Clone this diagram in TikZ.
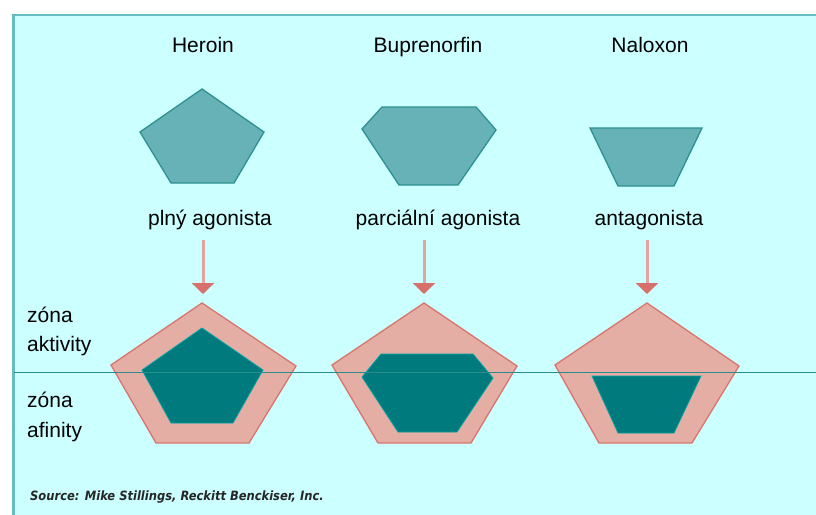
\documentclass[tikz,border=0pt]{standalone}
\usepackage{fontspec}
\setmainfont{Liberation Sans}
\newfontfamily\srcfont{DejaVu Sans Condensed}
\usetikzlibrary{arrows.meta}
\definecolor{bgcyan}{HTML}{CCFFFF}
\definecolor{framec}{HTML}{66BDBD}
\definecolor{topfill}{HTML}{66B2B6}
\definecolor{topdraw}{HTML}{2F9090}
\definecolor{darkteal}{HTML}{007A7D}
\definecolor{pinkfill}{HTML}{E4AEA4}
\definecolor{pinkdraw}{HTML}{D9756C}
\definecolor{zoneline}{HTML}{2B8C8C}
\definecolor{shaftc}{HTML}{E3A3A0}
\definecolor{headc}{HTML}{D7706A}
\tikzset{
  lbl/.style={anchor=base, inner sep=0pt, font=\fontsize{21}{24}\selectfont},
  zlbl/.style={anchor=base west, inner sep=0pt, font=\fontsize{21}{24}\selectfont},
  topshape/.style={fill=topfill, draw=topdraw, line width=1.3pt, line join=miter},
  receptor/.style={fill=pinkfill, draw=pinkdraw, line width=1.3pt},
  ligand/.style={fill=darkteal, draw=darkteal!70!cyan, line width=0.8pt},
  downarrow/.style={draw=shaftc, line width=3pt, -{Triangle[width=22pt,length=11pt,color=headc]}}
}
\begin{document}
\begin{tikzpicture}[x=1pt,y=-1pt]
\useasboundingbox (0,0) rectangle (816,514);
\fill[white] (0,0) rectangle (816,514);
\draw[fill=bgcyan, draw=framec, line width=2.5pt] (13.5,15) rectangle (830,530);

% titles
\node[lbl] (t1) at (203,52) {Heroin};
\node[lbl] (t2) at (428,52) {Buprenorfin};
\node[lbl] (t3) at (650,52) {Naloxon};

% top shapes
\draw[topshape] (202,89) -- (264,132) -- (234,183) -- (171,183) -- (140,132) -- cycle;
\draw[topshape] (382,107) -- (476,107) -- (496,130) -- (458,185) -- (399,185) -- (362,129) -- cycle;
\draw[topshape] (590,128) -- (702,128) -- (674,186) -- (618,186) -- cycle;

% labels
\node[lbl] (l1) at (210,225) {plný agonista};
\node[lbl] (l2) at (438,225) {parciální agonista};
\node[lbl] (l3) at (649,225) {antagonista};

% arrows
\coordinate (a1s) at (203,240); \coordinate (a1e) at (203,294);
\coordinate (a2s) at (424,240); \coordinate (a2e) at (424,294);
\coordinate (a3s) at (647,240); \coordinate (a3e) at (647,294);
\draw[downarrow] (a1s) -- (a1e);
\draw[downarrow] (a2s) -- (a2e);
\draw[downarrow] (a3s) -- (a3e);

% receptors
\draw[receptor] (202,303) -- (296,366) -- (249,443) -- (156,443) -- (111,365) -- cycle;
\draw[receptor] (424,303) -- (517,366) -- (471,443) -- (378,443) -- (332,365) -- cycle;
\draw[receptor] (647,303) -- (739,366) -- (692,443) -- (599,443) -- (555,365) -- cycle;

% bound ligands
\draw[ligand] (202,328) -- (263,370) -- (233,423) -- (171,423) -- (142,370) -- cycle;
\draw[ligand] (381,354) -- (473,354) -- (493,378) -- (457,432) -- (398,432) -- (362,377) -- cycle;
\draw[ligand] (592,376) -- (701,376) -- (674,433) -- (618,433) -- cycle;

% zone divider
\coordinate (zl) at (14,372.5); \coordinate (zr) at (816,372.5);
\draw[zoneline, line width=1.5pt] (zl) -- (zr);

% zone labels
\node[zlbl] (z1) at (27,322) {zóna};
\node[zlbl] (z2) at (27,351) {aktivity};
\node[zlbl] (z3) at (27,407) {zóna};
\node[zlbl] (z4) at (27,437) {afinity};

% source
\node[anchor=base west, inner sep=0pt, text=black!85, font=\srcfont\bfseries\itshape\fontsize{12.8}{14}\selectfont] (src) at (30,500) {Source: Mike Stillings, Reckitt Benckiser, Inc.};
\end{tikzpicture}
\end{document}
